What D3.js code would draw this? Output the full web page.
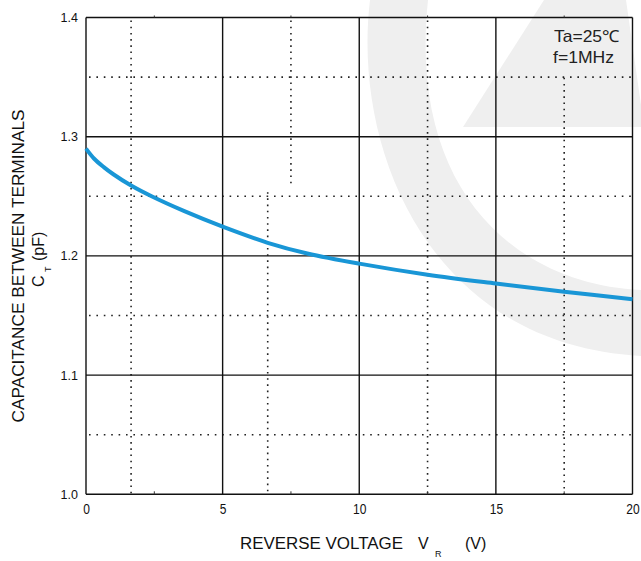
<!DOCTYPE html>
<html>
<head>
<meta charset="utf-8">
<script src="https://cdn.jsdelivr.net/npm/d3@7"></script>
<style>
  html, body { margin: 0; padding: 0; background: #fff; }
  svg { display: block; font-family: "Liberation Sans", Arial, sans-serif; }
</style>
</head>
<body>
<svg id="chart" width="641" height="561"></svg>
<script>
// ---- data ----
const voltage = [0, 0.3, 0.65, 1, 1.65, 2.4, 3.6, 5, 6.65, 8.1, 10, 12.5, 15, 17.5, 20];
const capacitance = [1.290, 1.2815, 1.2745, 1.2685, 1.2590, 1.2500, 1.2375, 1.2245, 1.2110, 1.2020, 1.1935, 1.1842, 1.1768, 1.1700, 1.1636];
const xTickValues = [0, 5, 10, 15, 20];
const yTickValues = [1.0, 1.1, 1.2, 1.3, 1.4];
const yTickLabels = ["1.0", "1.1", "1.2", "1.3", "1.4"];
const yDotted = [1.05, 1.15, 1.25, 1.35];
const xDottedV = [1.65, 6.65, 7.5, 12.5, 17.5];
const xDottedFrom = [1.0, 1.0, 1.26, 1.0, 1.0];
const xDottedTo = [1.4, 1.256, 1.4, 1.4, 1.352];
const xMinor = [2.5, 7.5, 12.5, 17.5];
const annotation = ["Ta=25\u2103", "f=1MHz"];

const svg = d3.select("#chart");
const L = 86, R = 632.5, T = 17.5, B = 494.3;
const x = d3.scaleLinear().domain([0, 20]).range([L, R]);
const y = d3.scaleLinear().domain([1.0, 1.4]).range([B, T]);

// ---- watermark ----
const wm = svg.append("g").attr("fill", "#efefef");
wm.append("path").attr("d",
  "M370,0 C352,150 430,345 641,356 L641,290 C515,284 408,190 428,0 Z");
wm.append("path").attr("d",
  "M544,0 L626,0 L641,105 L641,127 L463,127 Z");

// ---- dotted grid ----
const dot = svg.append("g").attr("stroke", "#222").attr("stroke-width", 1.6)
  .attr("fill", "none");
dot.selectAll("line.h").data(yDotted).join("line")
  .attr("x1", L + 3).attr("x2", R)
  .attr("y1", d => y(d)).attr("y2", d => y(d))
  .attr("stroke-dasharray", "1.6,5.8");
dot.selectAll("line.v").data(xDottedV).join("line")
  .attr("x1", d => x(d)).attr("x2", d => x(d))
  .attr("y1", (d, i) => y(xDottedTo[i]) + 3).attr("y2", (d, i) => y(xDottedFrom[i]))
  .attr("stroke-dasharray", "1.6,4.6");

// ---- solid grid ----
const grid = svg.append("g").attr("stroke", "#111").attr("stroke-width", 1.4);
grid.selectAll("line.v").data(xTickValues).join("line")
  .attr("x1", d => x(d)).attr("x2", d => x(d)).attr("y1", T).attr("y2", B);
grid.selectAll("line.h").data(yTickValues).join("line")
  .attr("x1", L).attr("x2", R).attr("y1", d => y(d)).attr("y2", d => y(d));

// minor ticks on bottom / top
const mt = svg.append("g").attr("stroke", "#333").attr("stroke-width", 1);
mt.selectAll("line.b").data(xMinor).join("line")
  .attr("x1", d => x(d)).attr("x2", d => x(d)).attr("y1", B).attr("y2", B - 3);
mt.selectAll("line.t").data(xMinor).join("line")
  .attr("x1", d => x(d)).attr("x2", d => x(d)).attr("y1", T).attr("y2", T - 2);

// ---- axes (labels) ----
const xAxis = d3.axisBottom(x).tickValues(xTickValues).tickSize(0).tickPadding(9.8)
  .tickFormat(d3.format("d"));
const gx = svg.append("g").attr("transform", `translate(0,${B})`).call(xAxis);
gx.select(".domain").remove();
gx.selectAll("text").attr("font-size", 14).attr("fill", "#111")
  .attr("font-family", "'Liberation Sans', Arial, sans-serif")
  .attr("transform", "scale(0.86,1)");

const yAxis = d3.axisLeft(y).tickValues(yTickValues).tickSize(0).tickPadding(8)
  .tickFormat((d, i) => yTickLabels[i]);
const gy = svg.append("g").attr("transform", `translate(${L},0)`).call(yAxis);
gy.select(".domain").remove();
gy.selectAll("text").attr("font-size", 12.5).attr("fill", "#111")
  .attr("font-family", "'Liberation Sans', Arial, sans-serif");

// ---- curve ----
const line = d3.line().x(d => x(d[0])).y(d => y(d[1])).curve(d3.curveCatmullRom.alpha(0.5));
svg.append("path")
  .datum(voltage.map((v, i) => [v, capacitance[i]]))
  .attr("fill", "none").attr("stroke", "#1996d6").attr("stroke-width", 4)
  .attr("stroke-linecap", "butt")
  .attr("d", line);

// ---- annotation ----
const ann = svg.append("g").attr("font-size", 16.5).attr("fill", "#222");
ann.append("text").attr("x", 554).attr("y", 42).attr("textLength", 65)
  .attr("lengthAdjust", "spacingAndGlyphs").text(annotation[0]);
ann.append("text").attr("x", 553).attr("y", 63).attr("textLength", 61)
  .attr("lengthAdjust", "spacingAndGlyphs").text(annotation[1]);

// ---- axis titles ----
const xt = svg.append("text").attr("y", 549).attr("font-size", 16).attr("fill", "#111");
xt.append("tspan").attr("x", 240).attr("textLength", 163)
  .attr("lengthAdjust", "spacingAndGlyphs").text("REVERSE VOLTAGE");
xt.append("tspan").attr("x", 418).text("V");
xt.append("tspan").attr("x", 435).attr("dy", 8).attr("font-size", 9).text("R");
xt.append("tspan").attr("x", 465).attr("dy", -8).text("(V)");

const yt = svg.append("g").attr("transform", "translate(24,266) rotate(-90)");
yt.append("text").attr("text-anchor", "middle").attr("font-size", 16).attr("fill", "#111")
  .attr("textLength", 313).attr("lengthAdjust", "spacingAndGlyphs")
  .text("CAPACITANCE BETWEEN TERMINALS");
const yt2 = yt.append("text").attr("y", 20).attr("font-size", 16).attr("fill", "#111");
yt2.append("tspan").attr("x", -21).text("C");
yt2.append("tspan").attr("x", -6).attr("dy", 6.5).attr("font-size", 9).text("T");
yt2.append("tspan").attr("x", 5).attr("dy", -6.5).text("(pF)");
</script>
</body>
</html>
